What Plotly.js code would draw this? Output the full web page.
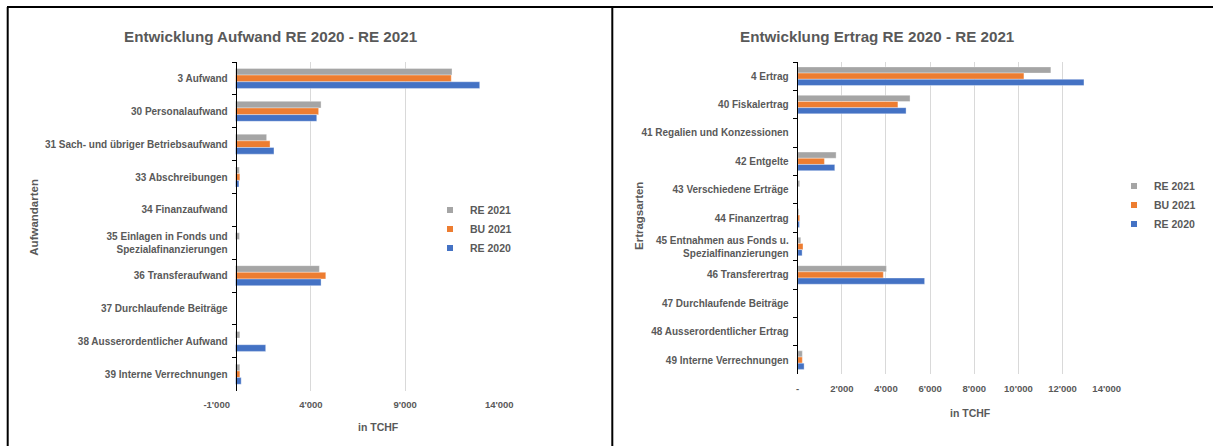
<!DOCTYPE html>
<html>
<head>
<meta charset="utf-8">
<script src="https://cdn.plot.ly/plotly-3.0.1.min.js"></script>
<style>
html,body{margin:0;padding:0;background:#fff;}
#chart{width:1213px;height:446px;}
</style>
</head>
<body>
<div id="chart"></div>
<script>
// ---- data (values in TCHF) ----
const seriesNames = ['RE 2021', 'BU 2021', 'RE 2020'];
const seriesColors = ['#A5A5A5', '#ED7D31', '#4472C4'];

const aufwandCategories = [
  '3 Aufwand',
  '30 Personalaufwand',
  '31 Sach- und übriger Betriebsaufwand',
  '33 Abschreibungen',
  '34 Finanzaufwand',
  '35 Einlagen in Fonds und<br>Spezialafinanzierungen',
  '36 Transferaufwand',
  '37 Durchlaufende Beiträge',
  '38 Ausserordentlicher Aufwand',
  '39 Interne Verrechnungen'
];
const aufwandRE2021 = [11490, 4540, 1650, 200, 0, 210, 4450, 0, 230, 230];
const aufwandBU2021 = [11450, 4410, 1830, 230, 0, 0, 4790, 0, 0, 230];
const aufwandRE2020 = [12960, 4310, 2040, 180, 0, 0, 4540, 0, 1600, 300];

const ertragCategories = [
  '4 Ertrag',
  '40 Fiskalertrag',
  '41 Regalien und Konzessionen',
  '42 Entgelte',
  '43 Verschiedene Erträge',
  '44 Finanzertrag',
  '45 Entnahmen aus Fonds u.<br>Spezialfinanzierungen',
  '46 Transferertrag',
  '47 Durchlaufende Beiträge',
  '48 Ausserordentlicher Ertrag',
  '49 Interne Verrechnungen'
];
const ertragRE2021 = [11470, 5090, 0, 1740, 90, 50, 140, 4020, 0, 0, 210];
const ertragBU2021 = [10250, 4540, 0, 1210, 0, 90, 240, 3880, 0, 0, 210];
const ertragRE2020 = [12970, 4910, 0, 1680, 0, 80, 200, 5750, 0, 0, 290];

const aufwandTickVals = [-1000, 4000, 9000, 14000];
const aufwandTickText = ["-1'000", "4'000", "9'000", "14'000"];
const ertragTickVals = [0, 2000, 4000, 6000, 8000, 10000, 12000, 14000];
const ertragTickText = ['-', "2'000", "4'000", "6'000", "8'000", "10'000", "12'000", "14'000"];

// ---- layout helpers (pixel -> paper) ----
const W = 1213, H = 446;
const px = v => v / W;
const py = v => 1 - v / H;
const FONT = 'Liberation Sans, Arial, sans-serif';
const TXT = '#595959';

function barTraces(cats, vals, xa, ya, w) {
  const offs = [-1.5 * w, -0.5 * w, 0.5 * w];
  return vals.map((v, i) => ({
    type: 'bar', orientation: 'h',
    y: cats, x: v, xaxis: xa, yaxis: ya,
    width: w, offset: offs[i],
    marker: {color: seriesColors[i], line: {color: 'rgba(255,255,255,0.7)', width: 0.5}},
    name: seriesNames[i], showlegend: false, hoverinfo: 'x+y'
  }));
}
function legendProxies(xa, ya, lg) {
  return seriesNames.map((n, i) => ({
    type: 'scatter', mode: 'markers', x: [null], y: [null],
    xaxis: xa, yaxis: ya, legend: lg, name: n,
    marker: {symbol: 'square', size: 6, color: seriesColors[i]},
    hoverinfo: 'skip'
  }));
}

const data = [
  ...barTraces(aufwandCategories, [aufwandRE2021, aufwandBU2021, aufwandRE2020], 'x', 'y', 0.203),
  ...barTraces(ertragCategories, [ertragRE2021, ertragBU2021, ertragRE2020], 'x2', 'y2', 0.218),
  ...legendProxies('x', 'y', 'legend'),
  ...legendProxies('x2', 'y2', 'legend2')
];

const tickFont = {family: FONT, size: 9.5, color: TXT, weight: 'bold'};
const catFont = {family: FONT, size: 10, color: TXT, weight: 'bold'};
const legendFont = {family: FONT, size: 10.5, color: TXT, weight: 'bold'};

function ann(text, x, y, size, angle) {
  return {text: text, x: x, y: y, xref: 'paper', yref: 'paper', showarrow: false,
    xanchor: 'center', yanchor: 'middle', textangle: angle || 0,
    font: {family: FONT, size: size, color: TXT, weight: 'bold'}};
}
function line(x0, y0, x1, y1) {
  return {type: 'line', xref: 'paper', yref: 'paper', x0: x0, y0: y0, x1: x1, y1: y1,
    line: {color: '#000', width: 2}};
}

const layout = {
  width: W, height: H, autosize: false,
  margin: {l: 0, r: 0, t: 0, b: 0, pad: 0},
  paper_bgcolor: '#fff', plot_bgcolor: 'rgba(0,0,0,0)',
  barmode: 'overlay',
  xaxis: {
    domain: [px(216.7), px(499.3)], range: [-1000, 14000], anchor: 'y',
    tickvals: aufwandTickVals, ticktext: aufwandTickText,
    showgrid: true, gridcolor: '#D9D9D9', gridwidth: 1, zeroline: false, showline: false,
    ticks: '', tickfont: tickFont, ticklabelstandoff: 7, fixedrange: true
  },
  yaxis: {
    domain: [py(390.7), py(62)], type: 'category', autorange: 'reversed',
    categoryorder: 'array', categoryarray: aufwandCategories,
    anchor: 'free', position: px(235.7),
    showline: true, linecolor: '#000', linewidth: 1, showgrid: false, zeroline: false,
    ticks: 'outside', tickson: 'boundaries', ticklen: 4, tickcolor: '#000', tickwidth: 1,
    tickfont: catFont, ticklabelstandoff: 6, fixedrange: true
  },
  xaxis2: {
    domain: [px(797.7), px(1106.7)], range: [0, 14000], anchor: 'y2',
    tickvals: ertragTickVals, ticktext: ertragTickText,
    showgrid: true, gridcolor: '#D9D9D9', gridwidth: 1, zeroline: false, showline: false,
    ticks: '', tickfont: tickFont, ticklabelstandoff: 7, fixedrange: true
  },
  yaxis2: {
    domain: [py(374.3), py(62)], type: 'category', autorange: 'reversed',
    categoryorder: 'array', categoryarray: ertragCategories,
    anchor: 'x2',
    showline: true, linecolor: '#000', linewidth: 1, showgrid: false, zeroline: false,
    ticks: 'outside', tickson: 'boundaries', ticklen: 4, tickcolor: '#000', tickwidth: 1,
    tickfont: catFont, ticklabelstandoff: 6, fixedrange: true
  },
  legend: {
    x: px(430), xanchor: 'left', y: py(229), yanchor: 'middle',
    bgcolor: 'rgba(0,0,0,0)', font: legendFont, traceorder: 'normal'
  },
  legend2: {
    x: px(1114), xanchor: 'left', y: py(205), yanchor: 'middle',
    bgcolor: 'rgba(0,0,0,0)', font: legendFont, traceorder: 'normal'
  },
  annotations: [
    ann('Entwicklung Aufwand RE 2020 - RE 2021', px(271), py(36), 15.2),
    ann('Entwicklung Ertrag RE 2020 - RE 2021', px(877), py(36), 15.2),
    ann('in TCHF', px(378), py(426.7), 10.5),
    ann('in TCHF', px(970), py(412.7), 10.5),
    ann('Aufwandarten', px(34), py(217.7), 11.5, -90),
    ann('Ertragsarten', px(639), py(216), 11.5, -90)
  ],
  shapes: [
    line(px(7), py(7), 1, py(7)),
    line(px(7.7), py(7), px(7.7), 0),
    line(px(612.3), py(7), px(612.3), 0)
  ]
};

Plotly.newPlot('chart', data, layout, {staticPlot: true, displayModeBar: false});
</script>
</body>
</html>
